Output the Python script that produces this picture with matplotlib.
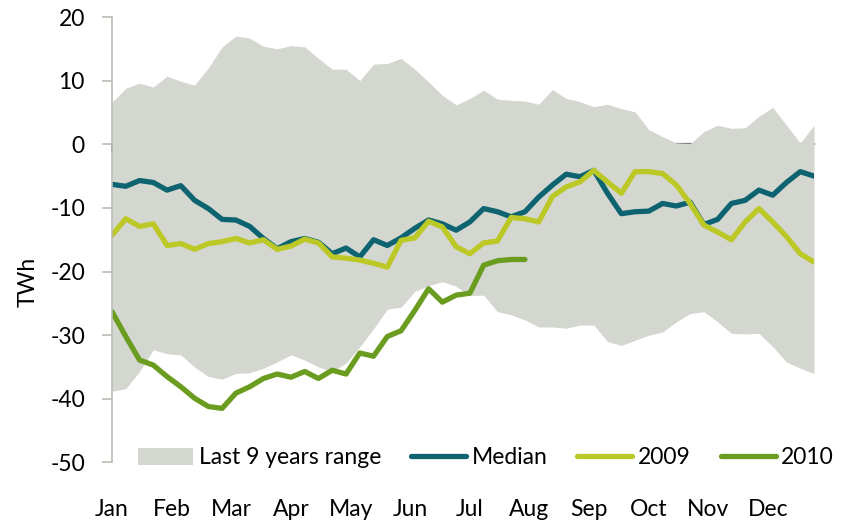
import matplotlib.pyplot as plt

# =========================================
# DATA (weekly, 52 weeks)
# =========================================
months = ["Jan", "Feb", "Mar", "Apr", "May", "Jun",
          "Jul", "Aug", "Sep", "Oct", "Nov", "Dec"]

range_high = [6.6, 8.8, 9.6, 9.0, 10.7, 9.9, 9.3, 12.0, 15.3, 17.0,
              16.7, 15.4, 15.0, 15.5, 15.3, 13.5, 11.8, 11.8, 10.0, 12.6,
              12.7, 13.5, 11.8, 9.8, 7.7, 6.2, 7.2, 8.5, 7.1, 6.9,
              6.8, 6.3, 8.6, 7.2, 6.7, 5.9, 6.3, 5.6, 5.1, 2.3,
              1.2, 0.2, 0.1, 2.0, 3.0, 2.5, 2.6, 4.4, 5.8, 3.0,
              0.2, 3.0]

range_low = [-38.8, -38.4, -35.7, -32.3, -32.9, -33.1, -35.0, -36.5, -36.9, -36.0,
             -35.9, -35.2, -34.2, -33.1, -33.9, -35.0, -35.7, -34.4, -31.8, -29.0,
             -25.9, -25.6, -23.1, -22.2, -21.6, -22.3, -23.8, -23.7, -26.3, -26.8,
             -27.6, -28.7, -28.7, -28.9, -28.4, -28.4, -31.0, -31.6, -30.8, -30.0,
             -29.5, -27.9, -26.6, -26.3, -27.9, -29.7, -29.8, -29.7, -31.8, -34.2,
             -35.2, -36.0]

median = [-6.3, -6.6, -5.7, -6.0, -7.2, -6.5, -8.8, -10.1, -11.8, -11.9,
          -12.9, -14.8, -16.4, -15.3, -14.8, -15.4, -17.2, -16.3, -17.7, -15.0,
          -15.9, -14.7, -13.2, -11.9, -12.5, -13.5, -12.2, -10.1, -10.6, -11.4,
          -10.6, -8.3, -6.4, -4.7, -5.1, -4.1, -7.7, -10.9, -10.6, -10.5,
          -9.3, -9.7, -9.1, -12.6, -11.8, -9.3, -8.8, -7.2, -8.0, -6.0,
          -4.3, -5.0]

y2009 = [-14.3, -11.7, -12.9, -12.5, -15.9, -15.6, -16.5, -15.6, -15.3, -14.8,
         -15.5, -15.0, -16.5, -16.0, -14.9, -15.5, -17.7, -17.9, -18.2, -18.7,
         -19.3, -15.1, -14.7, -12.1, -13.0, -16.1, -17.2, -15.5, -15.2, -11.5,
         -11.7, -12.2, -8.2, -6.7, -5.9, -4.1, -5.9, -7.7, -4.3, -4.3,
         -4.6, -6.4, -9.3, -12.7, -13.8, -15.0, -12.2, -10.1, -12.2, -14.5,
         -17.2, -18.5]

y2010 = [-26.3, -30.2, -33.9, -34.7, -36.5, -38.1, -39.9, -41.2, -41.5, -39.1,
         -38.1, -36.8, -36.1, -36.6, -35.7, -36.8, -35.5, -36.1, -32.8, -33.3,
         -30.2, -29.3, -26.1, -22.7, -24.8, -23.7, -23.4, -19.0, -18.3, -18.1,
         -18.1]

# =========================================
# STYLE
# =========================================
plt.rcParams["font.family"] = ["Lato", "DejaVu Sans"]
plt.rcParams["font.size"] = 16.5
plt.rcParams["axes.unicode_minus"] = False

C_FILL = "#d4d7d0"
C_MEDIAN = "#0d6470"
C_2009 = "#bcc826"
C_2010 = "#6a9c1f"
C_AXIS = "#b7bcb3"
C_ZERO = "#7f7f7f"

weeks = list(range(len(median)))
month_pos = [i * 52 / 12 for i in range(12)]

# =========================================
# PLOT
# =========================================
fig = plt.figure(figsize=(8.56, 5.24), dpi=100)
ax = fig.add_axes([112 / 856, 1 - 462.5 / 524, 702 / 856, 445.5 / 524])

ax.fill_between(weeks, range_low, range_high, color=C_FILL, lw=0,
                label="Last 9 years range")
ax.plot(weeks, median, color=C_MEDIAN, lw=3.8, label="Median",
        solid_joinstyle="round", solid_capstyle="round")
ax.plot(weeks, y2009, color=C_2009, lw=3.8, label="2009",
        solid_joinstyle="round", solid_capstyle="round")
ax.plot(weeks[:len(y2010)], y2010, color=C_2010, lw=3.8, label="2010",
        solid_joinstyle="round", solid_capstyle="round")

ax.set_xlim(0, 51)
ax.set_ylim(-50, 20)
ax.set_yticks(range(-50, 21, 10))

for s in ["top", "right", "bottom"]:
    ax.spines[s].set_visible(False)
ax.spines["left"].set_color(C_AXIS)
ax.spines["left"].set_linewidth(1.2)
ax.tick_params(axis="y", direction="out", length=7.5, width=1.2,
               color=C_AXIS, pad=12)

# month labels at the bottom
ax.set_xticks(month_pos)
ax.set_xticklabels(months)
ax.tick_params(axis="x", length=0, pad=26)

# zero line with month ticks
zero_ax = ax.secondary_xaxis(0, transform=ax.transData)
zero_ax.set_xticks(month_pos)
zero_ax.set_xticklabels([])
zero_ax.spines["bottom"].set_color(C_ZERO)
zero_ax.spines["bottom"].set_linewidth(1.6)
zero_ax.tick_params(axis="x", direction="out", length=5.5, width=1.4,
                    color=C_ZERO)

fig.text(28 / 856, 1 - 282 / 524, "TWh", rotation=90,
         ha="center", va="center")

fig.legend(loc="center", bbox_to_anchor=(486 / 856, 1 - 458 / 524),
           ncol=4, frameon=False, handlelength=2.4,
           handletextpad=0.25, columnspacing=1.3)

fig.savefig("out.png", dpi=100)
